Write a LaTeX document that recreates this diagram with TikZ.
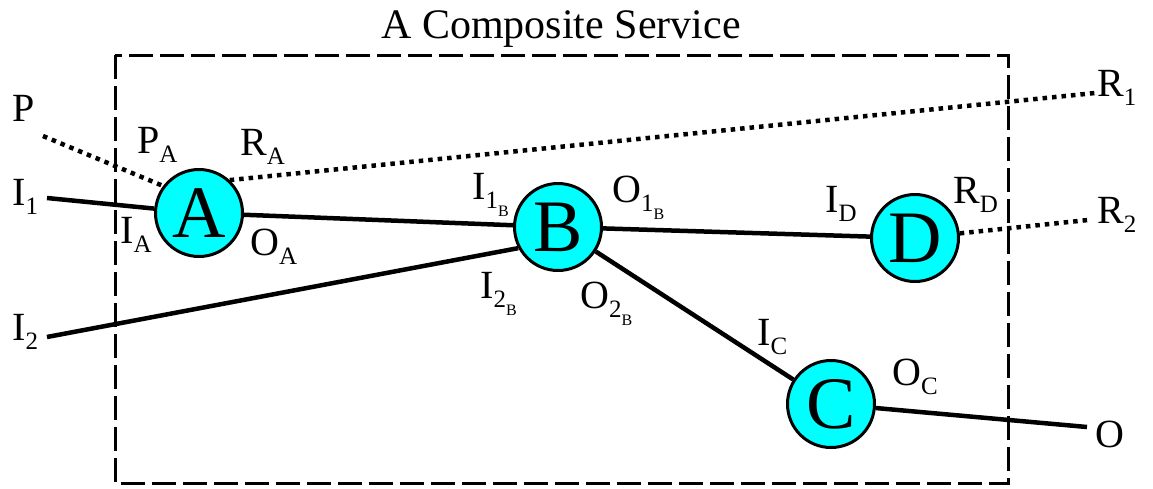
\documentclass[tikz,border=0pt]{standalone}
\usepackage{fontspec}
\setmainfont{Liberation Serif}
\definecolor{svcfill}{RGB}{0,255,255}
\newcommand\lbsub[1]{\raisebox{-9pt}{\fontsize{25}{25}\selectfont #1}}
\newcommand\lbssub[1]{\raisebox{-8pt}{\fontsize{16}{16}\selectfont #1}}
\begin{document}
\begin{tikzpicture}[x=1pt,y=-1pt,
  svc/.style={circle, draw, line width=3pt, fill=svcfill, minimum size=87pt, inner sep=0pt, font=\fontsize{74}{74}\selectfont},
  lbl/.style={anchor=base west, inner sep=0pt, font=\fontsize{40}{40}\selectfont},
  wire/.style={line width=4.5pt},
  dots/.style={line width=4.5pt, dash pattern=on 4.5pt off 5pt},
  frame/.style={line width=3pt, dash pattern=on 24pt off 7pt}]
\useasboundingbox (0,0) rectangle (1153,488);
\draw[frame] (115,55) rectangle (1008,483);
\node[anchor=base, inner sep=0pt, font=\fontsize{42}{42}\selectfont] (title) at (561,38) {A Composite Service};
% services
\node[svc] (A) at (199,213) {A};
\node[svc] (B) at (558,227) {B};
\node[svc] (D) at (915,238) {D};
\node[svc] (C) at (831,404) {C};
% free ends
\coordinate (p) at (43,136);
\coordinate (i1) at (47,198);
\coordinate (i2) at (47,337);
\coordinate (r1) at (1095,93);
\coordinate (r2) at (1088,220);
\coordinate (o) at (1087,427);
% connectors
\draw[dots] (p) -- (A.143);
\draw[wire] (i1) -- (A);
\draw[wire] (A) -- (B);
\draw[wire] (i2) -- (B.208);
\draw[dots] (A.47) -- (r1);
\draw[wire] (B) -- (D);
\draw[wire] (B) -- (C);
\draw[dots] (D) -- (r2);
\draw[wire] (C) -- (o);
% outer labels
\node[lbl] (lP) at (12,121) {P};
\node[lbl] (lI1) at (12,205) {I\lbsub{1}};
\node[lbl] (lI2) at (12,340) {I\lbsub{2}};
\node[lbl] (lR1) at (1097,96) {R\lbsub{1}};
\node[lbl] (lR2) at (1097,223) {R\lbsub{2}};
\node[lbl] (lO) at (1095,447) {O};
% port labels
\node[lbl] (lPA) at (137,153) {P\lbsub{A}};
\node[lbl] (lRA) at (240,155) {R\lbsub{A}};
\node[lbl] (lIA) at (120,243) {I\lbsub{A}};
\node[lbl] (lOA) at (250,255) {O\lbsub{A}};
\node[lbl] (lI1B) at (472,199) {I\lbsub{1\lbssub{B}}};
\node[lbl] (lO1B) at (612,202) {O\lbsub{1\lbssub{B}}};
\node[lbl] (lI2B) at (480,298) {I\lbsub{2\lbssub{B}}};
\node[lbl] (lO2B) at (580,308) {O\lbsub{2\lbssub{B}}};
\node[lbl] (lID) at (825,212) {I\lbsub{D}};
\node[lbl] (lRD) at (953,203) {R\lbsub{D}};
\node[lbl] (lIC) at (757,345) {I\lbsub{C}};
\node[lbl] (lOC) at (892,385) {O\lbsub{C}};
\end{tikzpicture}
\end{document}
